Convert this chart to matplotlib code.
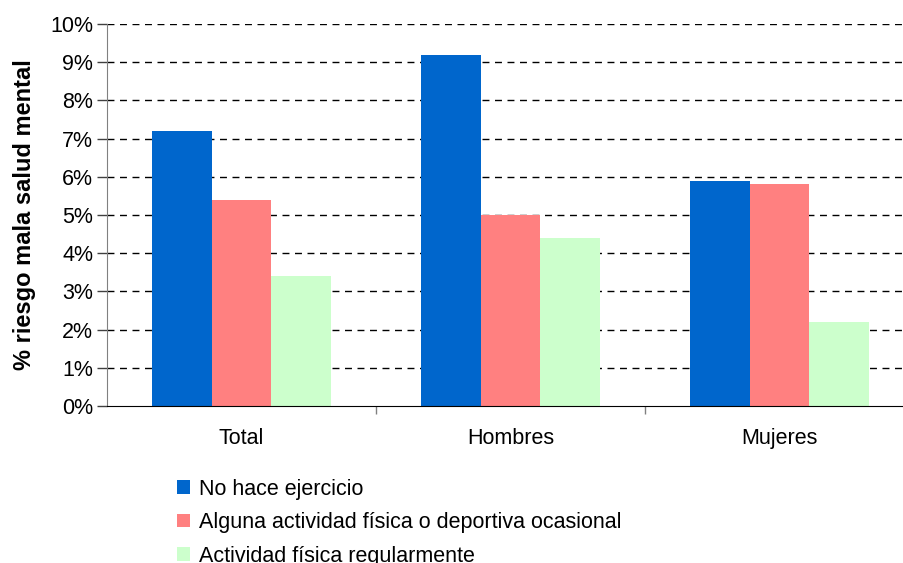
import matplotlib.pyplot as plt
import numpy as np
from matplotlib.patches import Patch
from matplotlib.ticker import FuncFormatter, FixedLocator

plt.rcParams['font.family'] = ['Liberation Sans', 'DejaVu Sans']

grupos = ["Total", "Hombres", "Mujeres"]
series = ["No hace ejercicio",
          "Alguna actividad física o deportiva ocasional",
          "Actividad física regularmente"]
no_ejercicio = [7.2, 9.2, 5.9]
ocasional = [5.4, 5.0, 5.8]
regular = [3.4, 4.4, 2.2]
colores = ["#0066CC", "#FF8080", "#CCFFCC"]

fig = plt.figure(figsize=(9.04, 5.63), dpi=100)
ax = fig.add_axes([107 / 904, 157 / 563, 807 / 904, 382 / 563])

x = np.arange(len(grupos))
ancho = 0.223
for i, (vals, col) in enumerate(zip([no_ejercicio, ocasional, regular], colores)):
    ax.bar(x + (i - 1) * ancho, vals, ancho, color=col, zorder=2)

ax.set_xlim(-0.5, 2.5)
ax.set_ylim(0, 10)
ax.set_yticks(range(0, 11))
ax.yaxis.set_major_formatter(FuncFormatter(lambda v, p: f"{int(v)}%"))
ax.yaxis.grid(True, linestyle=(0, (5, 4)), color="black", linewidth=1)
ax.yaxis.get_gridlines()[0].set_visible(False)
ax.set_axisbelow(True)

ax.set_xticks(x)
ax.set_xticklabels(grupos, fontsize=15.5)
ax.tick_params(axis="x", length=0, pad=16)
ax.xaxis.set_minor_locator(FixedLocator([0.5, 1.5]))
ax.tick_params(axis="x", which="minor", length=6, color="#808080", width=1)
ax.tick_params(axis="y", labelsize=15.5, length=7, width=1, color="#404040", pad=3)

for s in ["top", "right"]:
    ax.spines[s].set_visible(False)
ax.spines["left"].set_color("#808080")
ax.spines["bottom"].set_color("black")

ax.set_ylabel("% riesgo mala salud mental", fontsize=17, fontweight="bold", labelpad=10)

handles = [Patch(facecolor=c, edgecolor="none") for c in colores]
fig.legend(handles, series, loc="upper left", bbox_to_anchor=(168 / 904, 1 - 470 / 563),
           frameon=False, fontsize=15.5, handlelength=0.62, handleheight=0.62,
           handletextpad=0.4, labelspacing=0.58, borderaxespad=0)

fig.savefig("out.png", dpi=100)
